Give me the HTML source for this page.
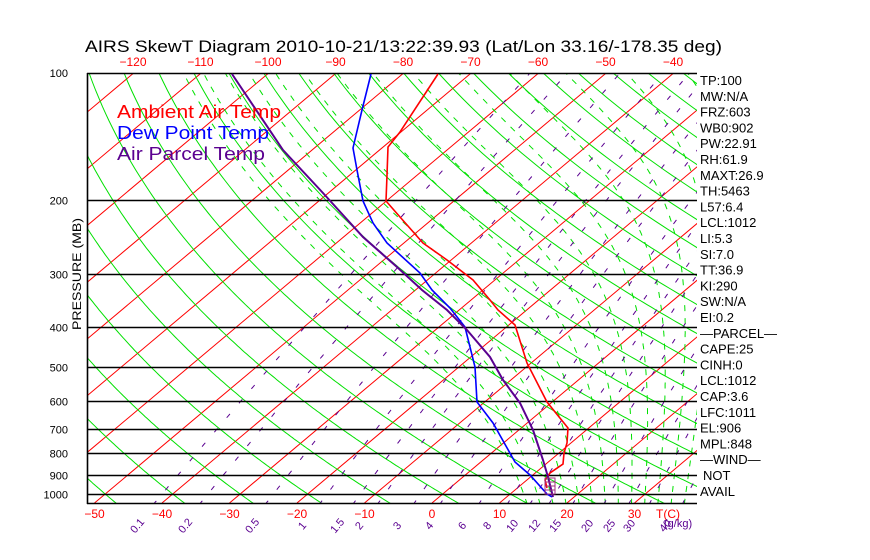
<!DOCTYPE html>
<html><head><meta charset="utf-8"><style>
html,body{margin:0;padding:0;background:#fff;}
svg{display:block;font-family:"Liberation Sans",sans-serif;}
</style></head><body>
<svg id="s" width="870" height="560" viewBox="0 0 870 560" xmlns="http://www.w3.org/2000/svg">
<defs><clipPath id="c"><rect x="87" y="73" width="610" height="430"/></clipPath></defs>
<rect width="870" height="560" fill="#fff"/>
<g id="plot" clip-path="url(#c)"></g>
<g id="axes"></g>
<text x="85" y="52" font-size="17" textLength="637" lengthAdjust="spacingAndGlyphs">AIRS SkewT Diagram 2010-10-21/13:22:39.93 (Lat/Lon 33.16/-178.35 deg)</text>
<text x="117" y="118" font-size="18" fill="#f00" textLength="164" lengthAdjust="spacingAndGlyphs">Ambient Air Temp</text>
<text x="117" y="139" font-size="18" fill="#00f" textLength="152" lengthAdjust="spacingAndGlyphs">Dew Point Temp</text>
<text x="117" y="160" font-size="18" fill="#5a0090" textLength="148" lengthAdjust="spacingAndGlyphs">Air Parcel Temp</text>
<text transform="translate(81,330) rotate(-90)" font-size="12" textLength="112" lengthAdjust="spacingAndGlyphs">PRESSURE (MB)</text>
</svg>
<script>
(function(){
var NS="http://www.w3.org/2000/svg";
var plot=document.getElementById("plot"),axes=document.getElementById("axes");
function el(par,tag,at,txt){var e=document.createElementNS(NS,tag);for(var k in at)e.setAttribute(k,at[k]);if(txt!=null)e.textContent=txt;par.appendChild(e);return e;}
function Y(p){return 494+182.8*Math.log(p/1000);}
function X(T,y){return 432+6.75*T+1.19*(503-y);}
function pl(par,pts,col,w,dash){var d=pts.map(function(q){return q[0].toFixed(1)+","+q[1].toFixed(1)}).join(" ");var a={points:d,fill:"none",stroke:col,"stroke-width":w};if(dash)a["stroke-dasharray"]=dash;el(par,"polyline",a);}
var ps=[];for(var p=1060;p>=95;p-=5)ps.push(p);
for(var T=-180;T<=60;T+=10){el(plot,"line",{x1:X(T,503),y1:503,x2:X(T,73),y2:73,stroke:"#f00","stroke-width":1});}
for(var th=-60;th<=250;th+=10){var pts=[];ps.forEach(function(p){var Tk=(th+273.15)*Math.pow(p/1000,0.286);var y=Y(p);pts.push([X(Tk-273.15,y),y]);});pl(plot,pts,"#00e000",1);}
function es(Tc){return 6.112*Math.exp(17.67*Tc/(Tc+243.5));}
function dTdp(Tk,p){var e=es(Tk-273.15);var rs=0.622*e/(p-e);var Lv=2.5e6,Rd=287,cp=1004;return (Rd*Tk+Lv*rs)/(p*(cp+Lv*Lv*rs*0.622/(Rd*Tk*Tk)));}
function moist(tw){var Tk=tw+273.15,up=[],dn=[],T=Tk,p,y;
 for(p=1000;p>=100;p-=2){y=Y(p);up.push([X(T-273.15,y),y]);T-=dTdp(T,p)*2;}
 T=Tk;for(p=1000;p<=1060;p+=2){y=Y(p);dn.push([X(T-273.15,y),y]);T+=dTdp(T,p)*2;}
 return dn.reverse().concat(up);}
for(var tw=12;tw<=40;tw+=2){pl(plot,moist(tw),"#00e000",1,"6,7");}
var ws=[0.1,0.2,0.5,1,1.5,2,3,4,6,8,10,12,15,20,25,30,40];
ws.forEach(function(w){var pts=[];ps.forEach(function(p){var e=w*p/(622+w);var l=Math.log(e/6.112);var Td=243.5*l/(17.67-l);var y=Y(p);pts.push([X(Td,y),y]);});pl(plot,pts,"#5a0090",1,"5,14");});
[200,300,400,500,600,700,800,900,1000].forEach(function(p){var y=Math.round(Y(p))+0.5;el(axes,"line",{x1:87,y1:y,x2:697,y2:y,stroke:"#000","stroke-width":1.6});
 el(axes,"text",{x:68,y:y+4,"font-size":11,"text-anchor":"end"},String(p));});
el(axes,"text",{x:68,y:77,"font-size":11,"text-anchor":"end"},"100");
el(axes,"line",{x1:87,y1:73.5,x2:697,y2:73.5,stroke:"#000","stroke-width":1.6});
el(axes,"line",{x1:87,y1:503.5,x2:697,y2:503.5,stroke:"#000","stroke-width":1.6});
el(axes,"line",{x1:87.5,y1:73,x2:87.5,y2:504,stroke:"#000","stroke-width":1.6});
[-120,-110,-100,-90,-80,-70,-60,-50,-40].forEach(function(t){el(axes,"text",{x:943+6.75*t,y:66,"font-size":12,fill:"#f00","text-anchor":"middle"},String(t).replace("-","\u2212"));});
[-50,-40,-30,-20,-10,0,10,20,30].forEach(function(t){el(axes,"text",{x:432+6.75*t,y:518,"font-size":12,fill:"#f00","text-anchor":"middle"},String(t).replace("-","\u2212"));});
el(axes,"text",{x:668,y:518,"font-size":12,fill:"#f00","text-anchor":"middle"},"T(C)");
var wx=[140,188,255,305,340,362,400,432,465,490,515,537,558,590,612,632,668];
ws.forEach(function(w,i){el(axes,"text",{transform:"translate("+wx[i]+",528) rotate(-50)","font-size":11,fill:"#5a0090","text-anchor":"middle"},String(w));});
el(axes,"text",{x:664,y:527,"font-size":11,fill:"#5a0090"},"(g/kg)");
var R=["TP:100","MW:N/A","FRZ:603","WB0:902","PW:22.91","RH:61.9","MAXT:26.9","TH:5463","L57:6.4","LCL:1012","LI:5.3","SI:7.0","TT:36.9","KI:290","SW:N/A","EI:0.2","\u2014PARCEL\u2014","CAPE:25","CINH:0","LCL:1012","CAP:3.6","LFC:1011","EL:906","MPL:848","\u2014WIND\u2014","NOT","AVAIL"];
R.forEach(function(s,i){el(axes,"text",{x:i==25?703:700,y:85+i*15.8,"font-size":13},s);});
pl(axes,[[438,74],[400,132],[388,147],[387,175],[386,201],[400,217],[423,243],[447,260],[473,280],[490,300],[498,310],[515,325],[527,363],[547,402],[568,428],[567,443],[564,453],[563,464],[550,473],[545,480],[547,488]],"#f00",1.6);
pl(axes,[[371,74],[362,110],[353,148],[357,170],[363,201],[373,223],[387,243],[420,273],[432,290],[450,308],[465,327],[475,367],[477,402],[493,423],[515,462],[530,475],[547,494],[552,497]],"#00f",1.6);
pl(axes,[[232,74],[283,150],[323,193],[363,237],[397,267],[422,290],[447,310],[467,330],[490,357],[503,380],[520,403],[533,430],[543,460],[548,477],[553,497]],"#5a0090",2);
el(axes,"rect",{x:545,y:478,width:10,height:16,fill:"none",stroke:"#a03080","stroke-width":1});
for(var k=0;k<4;k++)el(axes,"line",{x1:545,y1:482+k*4,x2:555,y2:482+k*4,stroke:"#a03080","stroke-width":1});
})();
</script>
</body></html>
